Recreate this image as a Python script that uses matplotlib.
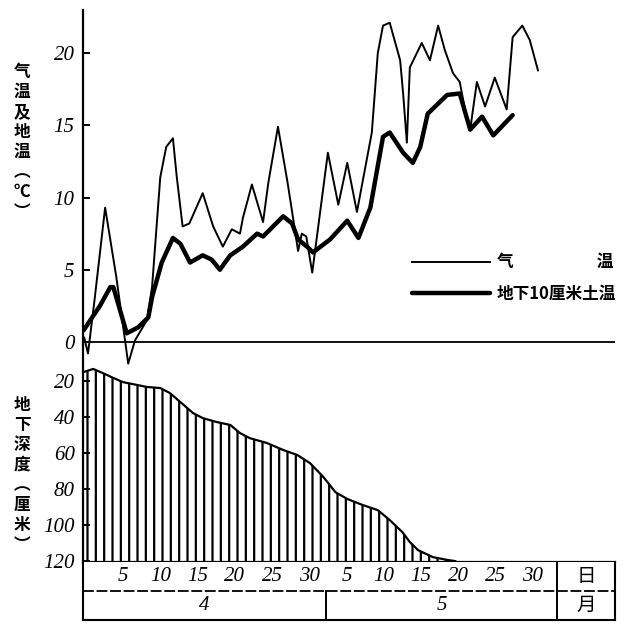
import matplotlib.pyplot as plt
from matplotlib.lines import Line2D

plt.rcParams['font.family'] = ['Noto Sans CJK SC', 'DejaVu Sans']
plt.rcParams['hatch.linewidth'] = 1.6

# day index: April d -> d, May d -> 30 + d
air_day = [-0.2, 0.3, 1.2, 2.6, 4.1, 5.7, 6.6, 8.2, 8.9, 10.0, 10.8, 11.7, 12.2, 13.0,
           13.9, 15.7, 17.1, 18.4, 19.6, 20.7, 21.1, 22.3, 23.8, 24.5, 25.8, 27.1,
           27.7, 28.5, 29.0, 29.6, 30.4, 32.5, 33.9, 35.1, 36.4, 38.4, 39.2, 39.9,
           40.8, 42.2, 42.6, 43.1, 43.5, 45.1, 46.2, 47.3, 48.2, 49.3, 50.2, 50.9,
           51.6, 52.5, 53.6, 54.9, 56.5, 57.3, 58.6, 59.6, 60.7]
air_temp = [0.3, -0.8, 3.0, 9.3, 4.5, -1.5, 0.1, 1.5, 3.8, 11.4, 13.5, 14.1, 11.5, 8.0,
            8.2, 10.3, 8.0, 6.6, 7.8, 7.5, 8.6, 10.9, 8.3, 11.0, 14.9, 11.0,
            9.0, 6.3, 7.5, 7.3, 4.8, 13.1, 9.5, 12.4, 9.0, 14.5, 20.0, 21.9,
            22.1, 19.5, 17.2, 13.8, 19.0, 20.7, 19.5, 21.9, 20.2, 18.6, 18.0, 16.1,
            14.7, 18.0, 16.3, 18.3, 16.1, 21.1, 21.9, 20.9, 18.8]

soil_day = [-0.3, 1.9, 3.3, 3.7, 4.6, 5.5, 7.0, 8.4, 8.9, 10.2, 11.7, 12.7, 14.0, 15.7,
            16.9, 18.0, 19.4, 21.1, 23.0, 23.8, 26.5, 27.7, 28.5, 29.7, 30.5, 32.8,
            35.1, 36.6, 38.2, 39.9, 40.8, 42.6, 43.9, 44.9, 45.9, 48.5, 50.2, 51.6,
            53.2, 54.7, 57.3]
soil_temp = [0.8, 2.5, 3.8, 3.8, 2.2, 0.6, 1.0, 1.7, 3.1, 5.5, 7.2, 6.8, 5.5, 6.0,
             5.7, 5.0, 6.0, 6.6, 7.5, 7.3, 8.7, 8.2, 7.1, 6.6, 6.2, 7.1,
             8.4, 7.2, 9.3, 14.2, 14.5, 13.1, 12.4, 13.5, 15.8, 17.1, 17.2, 14.7,
             15.6, 14.3, 15.7]

frost_day = [-0.3, 1.0, 2.3, 3.7, 5.0, 6.3, 8.2, 10.0, 11.3, 12.7, 14.4, 15.7, 17.6,
             19.4, 20.7, 22.0, 24.3, 26.5, 28.4, 30.1, 31.9, 33.5, 35.1, 37.2, 39.2,
             40.8, 42.5, 43.5, 44.6, 46.6, 48.6, 49.6]
frost_depth = [15.0, 13.3, 15.6, 18.3, 20.6, 21.7, 23.3, 23.9, 26.7, 31.7, 37.8, 40.6,
               42.8, 44.4, 48.9, 51.7, 54.4, 58.3, 61.1, 65.6, 73.3, 81.7, 85.5, 88.9,
               91.7, 97.2, 103.9, 109.4, 113.9, 117.8, 119.4, 120.0]

temp_ticks = [0, 5, 10, 15, 20]
depth_ticks = [20, 40, 60, 80, 100, 120]
day_labels = [5, 10, 15, 20, 25, 30]
months = ['4', '5']

W, H = 624, 627
XLIM = (-0.37, 71.04)
MONTH_SPLIT = 32.25
TABLE_END = 63.25
num_font = dict(family='Liberation Serif', style='italic', fontsize=15)


def box(left, top, right, bottom):
    return [left / W, 1 - bottom / H, (right - left) / W, (bottom - top) / H]


fig = plt.figure(figsize=(W / 100, H / 100), dpi=100)
ax_d = fig.add_axes(box(83, 345, 615, 562))
ax_tab = fig.add_axes(box(83, 562, 615, 620))
ax_t = fig.add_axes(box(83, 10, 615, 345))
ax_t.set_zorder(3)
ax_t.patch.set_visible(False)

# temperatures
ax_t.plot(air_day, air_temp, color='black', lw=1.4, clip_on=False, label='气　　　　　温')
ax_t.plot(soil_day, soil_temp, color='black', lw=3.2, solid_capstyle='round',
          label='地下10厘米土温')
ax_t.axhline(0, color='black', lw=1.3)
ax_t.set_xlim(*XLIM)
ax_t.set_ylim(-0.21, 22.98)
ax_t.set_yticks(temp_ticks)
ax_t.set_yticklabels([str(t) for t in temp_ticks], **num_font)
ax_t.set_xticks([])
for s in ['top', 'right', 'bottom']:
    ax_t.spines[s].set_visible(False)
ax_t.spines['left'].set_linewidth(1.6)
ax_t.tick_params(axis='y', direction='in', length=5, width=1.4, pad=6)

ax_t.legend(loc='center left', bbox_to_anchor=((412 - 83) / 532, 0.2), frameon=False,
            prop=dict(size=12, weight='bold'), handlelength=4.7, handletextpad=0.4,
            labelspacing=0.8, borderpad=0, borderaxespad=0)

# frozen soil depth
ax_d.fill_between(frost_day, frost_depth, 120, facecolor='white', edgecolor='black',
                  hatch='||', linewidth=0)
ax_d.plot(frost_day, frost_depth, color='black', lw=1.6)
ax_d.set_xlim(*XLIM)
ax_d.set_ylim(120.5, 0)
ax_d.set_yticks(depth_ticks)
ax_d.set_yticklabels([str(t) for t in depth_ticks], **num_font)
ax_d.set_xticks([])
for s in ['top', 'right']:
    ax_d.spines[s].set_visible(False)
ax_d.spines['left'].set_linewidth(1.6)
ax_d.spines['bottom'].set_linewidth(1.6)
ax_d.tick_params(axis='y', direction='in', length=5, width=1.4, pad=6)

# date table
ax_tab.set_xlim(*XLIM)
ax_tab.set_ylim(0, 2)
ax_tab.set_xticks([])
ax_tab.set_yticks([])
ax_tab.spines['top'].set_visible(False)
for s in ['left', 'bottom', 'right']:
    ax_tab.spines[s].set_linewidth(1.5)
ax_tab.axhline(1, color='black', lw=1.3, ls=(0, (6, 1.5)))
ax_tab.axvline(TABLE_END, color='black', lw=1.4)
ax_tab.add_line(Line2D([MONTH_SPLIT, MONTH_SPLIT], [0, 1], color='black', lw=1.4))
for m, start in enumerate([0, 30]):
    for d in day_labels:
        ax_tab.text(start + d, 1.5, str(d), ha='center', va='center', **num_font)
centers = [(XLIM[0] + MONTH_SPLIT) / 2, (MONTH_SPLIT + TABLE_END) / 2]
for c, m in zip(centers, months):
    ax_tab.text(c, 0.5, m, ha='center', va='center', **num_font)
ax_tab.text((TABLE_END + XLIM[1]) / 2, 1.5, '日', ha='center', va='center', fontsize=14)
ax_tab.text((TABLE_END + XLIM[1]) / 2, 0.5, '月', ha='center', va='center', fontsize=14)

# stacked axis titles
fig.text(22 / W, 1 - 142 / H, '\n'.join('气温及地温︵℃︶'), ha='center', va='center',
         fontsize=12, fontweight='bold', linespacing=1.15)
fig.text(22 / W, 1 - 475 / H, '\n'.join('地下深度︵厘米︶'), ha='center', va='center',
         fontsize=12, fontweight='bold', linespacing=1.15)

fig.savefig('out.png', dpi=100)
